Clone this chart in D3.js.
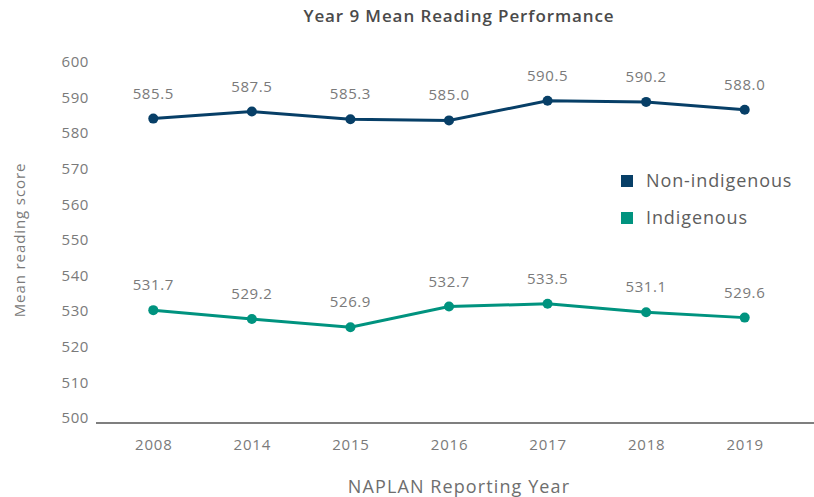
<!DOCTYPE html>
<html><head><meta charset="utf-8">
<script src="https://cdn.jsdelivr.net/npm/d3@7"></script>
<style>body{margin:0;background:#fff}svg{display:block}text{font-family:"Open Sans",sans-serif}</style>
</head><body><svg id="c" width="814" height="497"></svg>
<script>
const years = ["2008","2014","2015","2016","2017","2018","2019"];
const nonIndigenous = [585.5,587.5,585.3,585.0,590.5,590.2,588.0];
const indigenous = [531.7,529.2,526.9,532.7,533.5,531.1,529.6];
const yTicks = [500,510,520,530,540,550,560,570,580,590,600];
const seriesNames = ["Non-indigenous","Indigenous"];
const colors = ["#073f67","#00937f"];

const svg = d3.select("#c");
const x = d3.scalePoint().domain(years).range([104,794]).padding(0.5);
const y = d3.scaleLinear().domain([500,600]).range([423,67]);
const F = '"Open Sans", sans-serif';

svg.append("text").attr("x",459).attr("y",22).attr("text-anchor","middle")
  .attr("font-size",17).attr("font-weight",600).attr("fill","#4a4a4a")
  .attr("letter-spacing",0.9).text("Year 9 Mean Reading Performance");

// y axis labels
const ya = svg.append("g").attr("transform","translate(89,0)")
  .call(d3.axisLeft(y).tickValues(yTicks).tickSize(0).tickPadding(0));
ya.select(".domain").remove();
ya.selectAll("text").attr("font-size",15).attr("fill","#7a7a7a")
  .attr("dy","-0.02em").attr("letter-spacing",0.6).style("font-family",F);

// x axis
const xa = svg.append("g").attr("transform","translate(0,423)")
  .call(d3.axisBottom(x).tickSize(0).tickPadding(16));
xa.select(".domain").remove();
xa.selectAll("text").attr("font-size",15).attr("fill","#7a7a7a").attr("letter-spacing",0.8).style("font-family",F);
svg.append("line").attr("x1",96).attr("x2",814).attr("y1",423).attr("y2",423)
  .attr("stroke","#555").attr("stroke-width",1.3);

svg.append("text").attr("x",459).attr("y",493).attr("text-anchor","middle")
  .attr("font-size",18).attr("fill","#6e6e6e").attr("letter-spacing",1.1).text("NAPLAN Reporting Year");
svg.append("text").attr("transform","translate(25,240) rotate(-90)").attr("text-anchor","middle")
  .attr("font-size",15).attr("fill","#7a7a7a").attr("letter-spacing",0.9).text("Mean reading score");

const data = [nonIndigenous, indigenous];
const line = d3.line().x((d,i)=>x(years[i])).y(d=>y(d));
data.forEach((vals,k)=>{
  svg.append("path").datum(vals).attr("d",line).attr("fill","none")
    .attr("stroke",colors[k]).attr("stroke-width",3);
  svg.selectAll(null).data(vals).enter().append("circle")
    .attr("cx",(d,i)=>x(years[i])).attr("cy",d=>y(d)).attr("r",5).attr("fill",colors[k]);
  svg.selectAll(null).data(vals).enter().append("text")
    .attr("x",(d,i)=>x(years[i])).attr("y",d=>y(d)-20).attr("text-anchor","middle")
    .attr("font-size",15).attr("fill","#7a7a7a").attr("letter-spacing",0.6).text(d=>d.toFixed(1));
});

// legend
seriesNames.forEach((n,k)=>{
  const ly = 181 + k*37;
  svg.append("rect").attr("x",621).attr("y",ly-6).attr("width",12).attr("height",12).attr("fill",colors[k]);
  svg.append("text").attr("x",646).attr("y",ly).attr("dy","0.35em")
    .attr("font-size",18).attr("fill","#5e5e5e").attr("letter-spacing",0.9).text(n);
});
</script></body></html>
